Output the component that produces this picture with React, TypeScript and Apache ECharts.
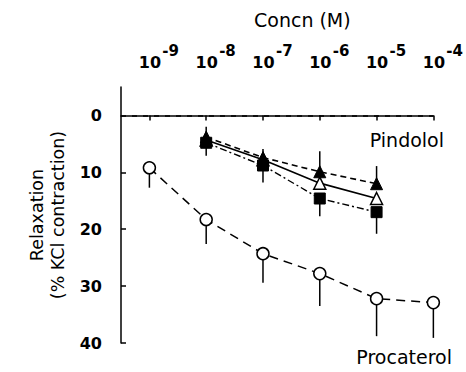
import { useEffect, useRef } from 'react';
import * as echarts from 'echarts';

// log10 of concentration (M)
const xTicks = [-9, -8, -7, -6, -5, -4];
const yTicks = [0, 10, 20, 30, 40];
const yTickMarks = [10, 20, 30, 40];
const xRange = [-9.5, -4];
const yRange = [-5, 40];

const procaterolX = [-9, -8, -7, -6, -5, -4];
const procaterol = [9.2, 18.3, 24.3, 27.8, 32.2, 32.9];
const procaterolErr = [3.5, 4.3, 5.1, 5.7, 6.6, 6.2];

const pindololX = [-8, -7, -6, -5];
const filledTri = [3.8, 7.4, 9.9, 12.0];
const filledTriErr = [1.8, 1.5, 3.6, 3.1];
const openTri = [4.3, 7.8, 11.9, 14.6];
const filledSq = [4.8, 8.8, 14.6, 17.0];
const filledSqErr = [2.3, 3.0, 3.1, 3.8];

const baselineValue = 0;

const FONT = 'DejaVu Sans';

function pairs(xs: number[], ys: number[]) {
  return xs.map((x, i) => [x, ys[i]]);
}
function errs(xs: number[], ys: number[], es: number[], dir: number) {
  return xs.map((x, i) => [x, ys[i], ys[i] + dir * es[i]]);
}

export default function App() {
  const ref = useRef<HTMLDivElement>(null);
  useEffect(() => {
    if (!ref.current) return;
    const chart = echarts.init(ref.current, null, { renderer: 'svg' });
    const errSeries = (data: number[][]) => ({
      type: 'custom',
      z: 1,
      data,
      encode: { x: 0, y: [1, 2] },
      renderItem: (_p: any, api: any) => {
        const a = api.coord([api.value(0), api.value(1)]);
        const b = api.coord([api.value(0), api.value(2)]);
        return {
          type: 'line',
          shape: { x1: a[0], y1: a[1], x2: b[0], y2: b[1] },
          style: { stroke: '#000', lineWidth: 1.5 },
        };
      },
      silent: true,
    });
    chart.setOption({
      animation: false,
      backgroundColor: '#fff',
      title: {
        text: 'Concn (M)',
        left: 254,
        top: 10,
        padding: 0,
        textStyle: { fontFamily: FONT, fontSize: 19, fontWeight: 'normal', color: '#000' },
      },
      grid: { left: 121, top: 87, right: 24, bottom: 29, containLabel: false },
      xAxis: {
        type: 'value',
        position: 'top',
        min: xRange[0],
        max: xRange[1],
        splitLine: { show: false },
        axisLine: { lineStyle: { color: '#000', width: 1.5 } },
        axisTick: {
          inside: true,
          length: 5,
          customValues: xTicks,
          lineStyle: { color: '#000', width: 1.5 },
        },
        axisLabel: {
          customValues: xTicks,
          margin: 19,
          padding: [0, 0, 0, 19],
          formatter: (v: number) => `{e|${v}}\n{b|10}`,
          rich: {
            e: { fontFamily: FONT, fontSize: 15, fontWeight: 'bold', color: '#000', align: 'right', lineHeight: 11 },
            b: { fontFamily: FONT, fontSize: 16, fontWeight: 'bold', color: '#000', align: 'left', lineHeight: 12, padding: [0, 18, 0, 0] },
          },
        },
      },
      yAxis: {
        type: 'value',
        inverse: true,
        min: yRange[0],
        max: yRange[1],
        splitLine: { show: false },
        axisLine: { lineStyle: { color: '#000', width: 1.5 } },
        axisTick: {
          inside: true,
          length: 5,
          customValues: yTickMarks,
          lineStyle: { color: '#000', width: 1.5 },
        },
        axisLabel: {
          customValues: yTicks,
          margin: 19,
          fontFamily: FONT,
          fontSize: 16,
          fontWeight: 'bold',
          color: '#000',
        },
        name: 'Relaxation\n(% KCl contraction)',
        nameLocation: 'middle',
        nameRotate: 90,
        nameGap: 45,
        nameTextStyle: { fontFamily: FONT, fontSize: 17.5, color: '#000', lineHeight: 21 },
      },
      graphic: [
        {
          type: 'text',
          right: 22,
          top: 130,
          style: { text: 'Pindolol', font: `19px "${FONT}"`, fill: '#000' },
        },
        {
          type: 'text',
          right: 14,
          top: 347,
          style: { text: 'Procaterol', font: `19px "${FONT}"`, fill: '#000' },
        },
      ],
      series: [
        errSeries(errs(procaterolX, procaterol, procaterolErr, 1)),
        errSeries(errs(pindololX, filledTri, filledTriErr, -1)),
        errSeries(errs(pindololX, filledSq, filledSqErr, 1)),
        {
          type: 'line',
          name: 'Procaterol',
          z: 2,
          data: pairs(procaterolX, procaterol),
          symbol: 'circle',
          symbolSize: 12,
          itemStyle: { color: '#fff', borderColor: '#000', borderWidth: 1.5 },
          lineStyle: { color: '#000', width: 1.5, type: [9, 6] },
          markLine: {
            silent: true,
            symbol: ['none', 'none'],
            label: { show: false },
            lineStyle: { color: '#000', width: 1.6, type: [5, 6] },
            data: [{ yAxis: baselineValue }],
          },
        },
        {
          type: 'line',
          name: 'Open triangle',
          z: 2,
          data: pairs(pindololX, openTri),
          symbol: 'triangle',
          symbolSize: 12,
          itemStyle: { color: '#fff', borderColor: '#000', borderWidth: 1.5 },
          lineStyle: { color: '#000', width: 1.6, type: 'solid' },
        },
        {
          type: 'line',
          name: 'Filled triangle',
          z: 3,
          data: pairs(pindololX, filledTri),
          symbol: 'triangle',
          symbolSize: 12,
          itemStyle: { color: '#000', borderColor: '#000', borderWidth: 1 },
          lineStyle: { color: '#000', width: 1.6, type: [6, 4] },
        },
        {
          type: 'line',
          name: 'Filled square',
          z: 3,
          data: pairs(pindololX, filledSq),
          symbol: 'rect',
          symbolSize: 11,
          itemStyle: { color: '#000', borderColor: '#000', borderWidth: 1 },
          lineStyle: { color: '#000', width: 1.4, type: [7, 3, 2, 3] },
        },
      ],
    });
    return () => chart.dispose();
  }, []);
  return (
    <div
      ref={ref}
      style={{ position: 'absolute', left: 0, top: 0, width: 466, height: 372 }}
    />
  );
}
